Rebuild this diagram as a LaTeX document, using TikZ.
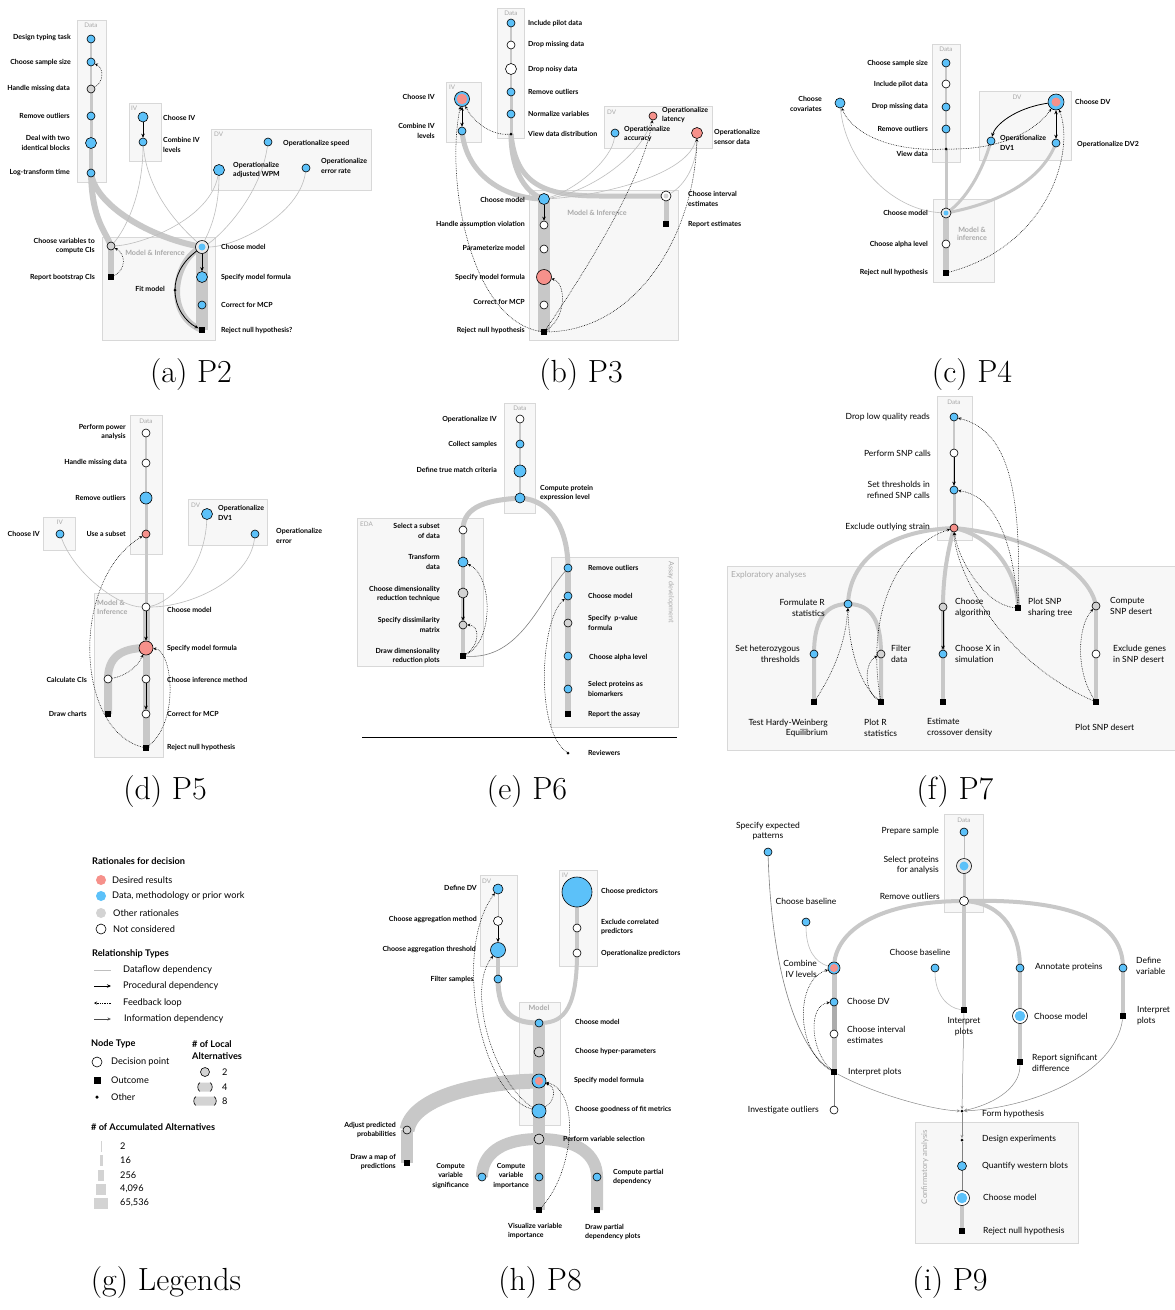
\documentclass[tikz,border=0pt]{standalone}
\usepackage{fontspec}
\newfontfamily\labf{Lato}
\usetikzlibrary{arrows.meta}
\definecolor{cblue}{HTML}{5CC1F9}
\definecolor{cred}{HTML}{F6918B}
\definecolor{cgray}{HTML}{D3D3D3}
\definecolor{cflow}{HTML}{C8C8C8}
\definecolor{cthin}{HTML}{BEBEBE}
\definecolor{cbox}{HTML}{D8D8D8}
\definecolor{cboxf}{HTML}{F7F7F7}
\definecolor{cboxt}{HTML}{A9A9A9}
\definecolor{cinfo}{HTML}{8A8A8A}
\pgfdeclarelayer{bg}
\pgfdeclarelayer{edges}
\pgfsetlayers{bg,edges,main}
\tikzset{
  nd/.style={circle, draw=black, line width=0.6pt, inner sep=0pt, minimum size=#1},
  nd/.default=8pt,
  bl/.style={nd=#1, fill=cblue}, bl/.default=8pt,
  rd/.style={nd=#1, fill=cred}, rd/.default=8pt,
  gr/.style={nd=#1, fill=cgray}, gr/.default=8pt,
  wh/.style={nd=#1, fill=white}, wh/.default=8pt,
  ctr/.style 2 args={path picture={\fill[#1] (path picture bounding box.center) circle (#2);}},
  oc/.style={rectangle, fill=black, inner sep=0pt, minimum size=6.5pt},
  ot/.style={circle, fill=black, inner sep=0pt, minimum size=3pt},
  flow/.style={draw=cflow, line width=#1}, flow/.default=4pt,
  thn/.style={draw=cthin, line width=0.6pt},
  proc/.style={draw=black, line width=0.8pt, -{Stealth[length=4pt,width=3.5pt]}},
  fb/.style={draw=black, line width=0.55pt, dash pattern=on 0.7pt off 1pt, -{Stealth[length=3pt,width=3pt]}},
  info/.style={draw=cinfo, line width=0.5pt, -{Stealth[length=3.5pt,width=3pt,open]}},
  bx/.style={draw=cbox, fill=cboxf, line width=0.8pt},
  bxt/.style={text=cboxt, font=\labf\fontsize{6.3}{7}\selectfont, inner sep=0pt},
  bxtb/.style={text=cboxt, font=\labf\bfseries\fontsize{7.2}{8.6}\selectfont, inner sep=0pt, align=left},
  lb/.style={font=\labf\bfseries\fontsize{7}{9.3}\selectfont, inner sep=0pt},
  lE/.style={lb, anchor=east, align=right},
  lW/.style={lb, anchor=west, align=left},
  lC/.style={lb, anchor=center, align=center},
  lr/.style={font=\labf\fontsize{8.5}{10.8}\selectfont, inner sep=0pt},
  rE/.style={lr, anchor=east, align=right},
  rW/.style={lr, anchor=west, align=left},
  rC/.style={lr, anchor=center, align=center},
  lg/.style={font=\labf\fontsize{9.2}{11}\selectfont, inner sep=0pt, anchor=west, align=left},
  lgh/.style={font=\labf\bfseries\fontsize{9.2}{11.5}\selectfont, inner sep=0pt, anchor=west, align=left},
  captxt/.style={font=\fontsize{32}{36}\selectfont, inner sep=0pt},
}
\begin{document}
\begin{tikzpicture}[x=1pt,y=-1pt]
\useasboundingbox (0,0) rectangle (1175,1310);
\begin{pgfonlayer}{bg}
\fill[white] (0,0) rectangle (1175,1310);
% a
\draw[bx] (77,20) rectangle (106,182);
\draw[bx] (129,103) rectangle (161,161);
\draw[bx] (211,129) rectangle (371,190);
\draw[bx] (102,237) rectangle (215,340);
% b
\draw[bx] (497,8) rectangle (524,138);
\draw[bx] (446,82) rectangle (481,142);
\draw[bx] (604,106) rectangle (712,148);
\draw[bx] (529,190) rectangle (678,340);
% c
\draw[bx] (932,44) rectangle (960,162);
\draw[bx] (979,91) rectangle (1071,160);
\draw[bx] (933,199) rectangle (994,282);
% d
\draw[bx] (130,415) rectangle (162,554);
\draw[bx] (43,517) rectangle (75,550);
\draw[bx] (188,499) rectangle (267,545);
\draw[bx] (94,593) rectangle (163,757);
% e
\draw[bx] (504,403) rectangle (535,513);
\draw[bx] (357,518) rectangle (483,666);
\draw[bx] (551,557) rectangle (678,727);
% f
\draw[bx] (937,396) rectangle (972,540);
\draw[bx] (727,566) rectangle (1175,750);
% h
\draw[bx] (480,875) rectangle (517,966);
\draw[bx] (559,870) rectangle (597,966);
\draw[bx] (519,1002) rectangle (560,1125);
% i
\draw[bx] (944,814) rectangle (983,912);
\draw[bx] (915,1122) rectangle (1078,1243);
\end{pgfonlayer}

% ================= Panel a =================
\node[bxt] (ta1) at (91,25) {Data};
\node[bxt, anchor=west] (ta2) at (131,108) {IV};
\node[bxt, anchor=west] (ta3) at (214,134) {DV};
\node[bxtb] (ta4) at (155,253) {Model \& Inference};
\node[bl] (a1) at (91,39) {}; \node[lE] (a1t) at (71,38) {Design typing task};
\node[bl] (a2) at (91,62) {}; \node[lE] (a2t) at (71,62) {Choose sample size};
\node[gr] (a3) at (91,89) {}; \node[lE] (a3t) at (70,89) {Handle missing data};
\node[bl] (a4) at (91,116) {}; \node[lE] (a4t) at (70,116) {Remove outliers};
\node[bl=11pt] (a5) at (91,143) {}; \node[lE] (a5t) at (70,143) {Deal with two\\identical blocks};
\node[bl] (a6) at (91,173) {}; \node[lE] (a6t) at (70,173) {Log-transform time};
\node[bl=10pt] (a7) at (143,117) {}; \node[lW] (a7t) at (163,118) {Choose IV};
\node[bl] (a8) at (143,142) {}; \node[lW] (a8t) at (163,145) {Combine IV\\levels};
\node[bl] (a9) at (268,142) {}; \node[lW] (a9t) at (283,143) {Operationalize speed};
\node[bl=11pt] (a10) at (219,170) {}; \node[lW] (a10t) at (233,170) {Operationalize\\adjusted WPM};
\node[bl] (a11) at (306,168) {}; \node[lW] (a11t) at (321,166) {Operationalize\\error rate};
\node[gr] (a12) at (111,246) {}; \node[lE] (a12t) at (95,246) {Choose variables to\\compute CIs};
\node[oc] (a13) at (111,277) {}; \node[lE] (a13t) at (95,277) {Report bootstrap CIs};
\node[nd=13pt, fill=cgray!50, ctr={cblue}{3.5pt}] (a14) at (202,247) {}; \node[lW] (a14t) at (221,247) {Choose model};
\node[bl=11pt] (a15) at (202,277) {}; \node[lW] (a15t) at (221,277) {Specify model formula};
\node[bl] (a16) at (202,305) {}; \node[lW] (a16t) at (221,305) {Correct for MCP};
\node[oc] (a17) at (202,330) {}; \node[lW] (a17t) at (221,331) {Reject null hypothesis?};
\node[ot] (a18) at (175,290) {}; \node[lE] (a18t) at (165,289) {Fit model};
\begin{pgfonlayer}{edges}
\draw[flow=2pt] (a1.center) -- (a3.center);
\draw[flow=3pt] (a3.center) -- (a5.center);
\draw[flow=4pt] (a5.center) -- (a6.center);
\draw[flow=6pt] (a6.center) .. controls (92,220) and (105,230) .. (a12.center);
\draw[flow=6pt] (a6.center) .. controls (95,205) and (150,238) .. (a14.center);
\draw[flow=6pt] (a12.center) -- (a13.center);
\draw[flow=12pt] (a14.center) -- (a17.center);
\draw[flow=6pt] (a14.center) .. controls (175,258) and (163,315) .. (a17.center);
\draw[thn] (a8) .. controls (143,195) and (125,230) .. (a12);
\draw[thn] (a8) .. controls (148,200) and (190,235) .. (a14);
\draw[thn] (a10) .. controls (210,220) and (140,245) .. (a12);
\draw[thn] (a10) .. controls (219,215) and (207,235) .. (a14);
\draw[thn] (a9) .. controls (260,200) and (215,240) .. (a14);
\draw[thn] (a11) .. controls (300,215) and (235,247) .. (a14);
\draw[proc] (a7) -- (a8);
\draw[proc] (a14) -- (a15);
\draw[proc] (a14) .. controls (182,262) and (175,276) .. (a18.center) .. controls (175,308) and (186,322) .. (a17);
\draw[fb] (a3) .. controls (104,82) and (104,68) .. (a2);
\draw[fb] (a13) .. controls (126,270) and (126,254) .. (a12);
\end{pgfonlayer}

% ================= Panel b =================
\node[bxt] (tb1) at (511,13) {Data};
\node[bxt, anchor=west] (tb2) at (449,87) {IV};
\node[bxt, anchor=west] (tb3) at (607,112) {DV};
\node[bxtb] (tb4) at (597,213) {Model \& Inference};
\node[bl] (b1) at (511,23) {}; \node[lW] (b1t) at (528,23) {Include pilot data};
\node[wh] (b2) at (511,45) {}; \node[lW] (b2t) at (528,45) {Drop missing data};
\node[wh=11pt] (b3) at (511,69) {}; \node[lW] (b3t) at (528,69) {Drop noisy data};
\node[bl] (b4) at (511,92) {}; \node[lW] (b4t) at (528,92) {Remove outliers};
\node[bl] (b5) at (511,114) {}; \node[lW] (b5t) at (528,114) {Normalize variables};
\node[ot] (b6) at (511,134) {}; \node[lW] (b6t) at (528,134) {View data distribution};
\node[nd=15pt, fill=cblue, ctr={cred}{5.3pt}] (b7) at (462,99) {}; \node[lE] (b7t) at (435,97) {Choose IV};
\node[bl] (b8) at (462,131) {}; \node[lE] (b8t) at (435,131) {Combine IV\\levels};
\node[rd] (b9) at (653,116) {}; \node[lW] (b9t) at (662,115) {Operationalize\\latency};
\node[bl] (b10) at (615,133) {}; \node[lW] (b10t) at (624,134) {Operationalize\\accuracy};
\node[rd=11pt] (b11) at (697,133) {}; \node[lW] (b11t) at (714,137) {Operationalize\\sensor data};
\node[bl=11pt] (b12) at (544,199) {}; \node[lE] (b12t) at (525,200) {Choose model};
\node[wh] (b13) at (544,225) {}; \node[lE] (b13t) at (525,224) {Handle assumption violation};
\node[wh] (b14) at (544,249) {}; \node[lE] (b14t) at (525,248) {Parameterize model};
\node[rd=15pt] (b15) at (544,277) {}; \node[lE] (b15t) at (525,277) {Specify model formula};
\node[wh] (b16) at (544,305) {}; \node[lE] (b16t) at (525,302) {Correct for MCP};
\node[oc] (b17) at (544,332) {}; \node[lE] (b17t) at (525,331) {Reject null hypothesis};
\node[nd=10pt, fill=white, ctr={cgray}{2.5pt}] (b18) at (666,196) {}; \node[lW] (b18t) at (688,199) {Choose interval\\estimates};
\node[oc] (b19) at (666,224) {}; \node[lW] (b19t) at (688,224) {Report estimates};
\begin{pgfonlayer}{edges}
\draw[flow=2pt] (b1.center) -- (b4.center);
\draw[flow=3pt] (b4.center) -- (b6.center);
\draw[flow=5pt] (b6.center) .. controls (511,165) and (522,192) .. (b12.center);
\draw[flow=5pt] (b8.center) .. controls (466,175) and (505,199) .. (b12.center);
\draw[flow=5pt] (b6.center) .. controls (516,185) and (545,196) .. (600,196) -- (b18.center);
\draw[flow=12pt] (b12.center) -- (b17.center);
\draw[flow=5pt] (b18.center) -- (b19.center);
\draw[thn] (b10) .. controls (612,160) and (575,190) .. (b12);
\draw[thn] (b9) .. controls (640,160) and (585,193) .. (b12);
\draw[thn] (b11) .. controls (690,175) and (600,196) .. (b12);
\draw[thn] (b11) .. controls (697,165) and (685,185) .. (b18);
\draw[proc] (b12) -- (b13);
\draw[proc, {Stealth[length=4pt,width=3.5pt]}-{Stealth[length=4pt,width=3.5pt]}] (b7) -- (b8);
\draw[fb] (b6) .. controls (490,136) and (472,120) .. (b7);
\draw[fb] (b17) .. controls (470,320) and (445,180) .. (b7);
\draw[fb] (b17) .. controls (600,250) and (645,170) .. (b9);
\draw[fb] (b17) .. controls (640,330) and (695,230) .. (b11);
\draw[fb] (b17) .. controls (568,315) and (565,282) .. (b15);
\end{pgfonlayer}

% ================= Panel c =================
\node[bxt] (tc1) at (946,49) {Data};
\node[bxt] (tc2) at (1017,97) {DV};
\node[bxtb, align=center] (tc3) at (972,234) {Model \&\\inference};
\node[bl] (c1) at (946,63) {}; \node[lE] (c1t) at (928,63) {Choose sample size};
\node[wh] (c2) at (946,84) {}; \node[lE] (c2t) at (928,84) {Include pilot data};
\node[bl] (c3) at (946,107) {}; \node[lE] (c3t) at (928,107) {Drop missing data};
\node[bl] (c4) at (946,129) {}; \node[lE] (c4t) at (928,129) {Remove outliers};
\node[ot] (c5) at (946,149) {}; \node[lE] (c5t) at (928,154) {View data};
\node[bl=10pt] (c6) at (840,103) {}; \node[lE] (c6t) at (822,104) {Choose\\covariates};
\node[nd=16pt, fill=cblue, ctr={cred}{4.5pt}] (c7) at (1056,102) {}; \node[lW] (c7t) at (1075,102) {Choose DV};
\node[bl] (c8) at (991,141) {}; \node[lW] (c8t) at (1000,143) {Operationalize\\DV1};
\node[bl] (c9) at (1056,143) {}; \node[lW] (c9t) at (1077,144) {Operationalize DV2};
\node[nd=10pt, fill=cgray!50, ctr={cblue}{2.5pt}] (c10) at (946,213) {}; \node[lE] (c10t) at (928,213) {Choose model};
\node[wh] (c11) at (946,244) {}; \node[lE] (c11t) at (928,244) {Choose alpha level};
\node[oc] (c12) at (946,273) {}; \node[lE] (c12t) at (928,273) {Reject null hypothesis};
\begin{pgfonlayer}{edges}
\draw[flow=2pt] (c1.center) -- (c5.center);
\draw[flow=3pt] (c5.center) -- (c10.center);
\draw[flow=6pt] (c10.center) -- (c12.center);
\draw[flow=3pt] (c8.center) .. controls (980,180) and (960,205) .. (c10.center);
\draw[flow=3pt] (c9.center) .. controls (1040,185) and (990,205) .. (c10.center);
\draw[thn] (c10) .. controls (890,210) and (845,160) .. (c6);
\draw[proc] (c7) .. controls (1015,108) and (995,125) .. (c8);
\draw[proc, {Stealth[length=4pt,width=3.5pt]}-{Stealth[length=4pt,width=3.5pt]}] (c7) -- (c9);
\draw[fb] (c5) .. controls (885,152) and (850,130) .. (c6);
\draw[fb] (c5) .. controls (1010,150) and (1040,125) .. (c7);
\draw[fb] (c12) .. controls (1050,245) and (1075,150) .. (c7);
\end{pgfonlayer}

% ================= Panel d =================
\node[bxt] (td1) at (146,421) {Data};
\node[bxt] (td2) at (60,522) {IV};
\node[bxt, anchor=west] (td3) at (191,505) {DV};
\node[bxtb, anchor=north west] (td4) at (97,600) {Model \&\\Inference};
\node[wh] (d1) at (146,433) {}; \node[lE] (d1t) at (126,432) {Perform power\\analysis};
\node[wh] (d2) at (146,463) {}; \node[lE] (d2t) at (127,463) {Handle missing data};
\node[bl=12pt] (d3) at (146,498) {}; \node[lE] (d3t) at (126,498) {Remove outliers};
\node[rd] (d4) at (146,534) {}; \node[lE] (d4t) at (126,534) {Use a subset};
\node[bl] (d5) at (60,534) {}; \node[lE] (d5t) at (40,534) {Choose IV};
\node[bl=11pt] (d6) at (207,514) {}; \node[lW] (d6t) at (218,513) {Operationalize\\DV1};
\node[bl] (d7) at (255,534) {}; \node[lW] (d7t) at (276,536) {Operationalize\\error};
\node[wh] (d8) at (146,607) {}; \node[lW] (d8t) at (167,610) {Choose model};
\node[rd=14pt] (d9) at (146,648) {}; \node[lW] (d9t) at (167,648) {Specify model formula};
\node[wh] (d10) at (146,679) {}; \node[lW] (d10t) at (167,680) {Choose inference method};
\node[wh] (d11) at (146,714) {}; \node[lW] (d11t) at (167,714) {Correct for MCP};
\node[oc] (d12) at (146,748) {}; \node[lW] (d12t) at (167,748) {Reject null hypothesis};
\node[wh] (d13) at (108,679) {}; \node[lE] (d13t) at (87,680) {Calculate CIs};
\node[oc] (d14) at (108,714) {}; \node[lE] (d14t) at (87,714) {Draw charts};
\begin{pgfonlayer}{edges}
\draw[flow=2pt] (d1.center) -- (d3.center);
\draw[flow=3pt] (d3.center) -- (d8.center);
\draw[flow=7pt] (d8.center) -- (d12.center);
\draw[flow=8pt] (d9.center) .. controls (120,648) and (108,658) .. (d13.center) -- (d14.center);
\draw[thn] (d5) .. controls (75,575) and (120,607) .. (d8);
\draw[thn] (d6) .. controls (205,570) and (170,603) .. (d8);
\draw[thn] (d7) .. controls (250,580) and (190,607) .. (d8);
\draw[proc] (d8) -- (d9);
\draw[proc] (d10) -- (d11);
\draw[fb] (d13) .. controls (125,676) and (137,668) .. (d9);
\draw[fb] (d12) .. controls (180,720) and (172,650) .. (d9);
\draw[fb] (d12) .. controls (75,730) and (70,580) .. (d4);
\end{pgfonlayer}

% ================= Panel e =================
\node[bxt] (te1) at (520,408) {Data};
\node[bxt, anchor=west] (te2) at (360,524) {EDA};
\node[bxt, rotate=-90, font=\labf\fontsize{7.2}{8}\selectfont] (te3) at (671,592) {Assay development};
\node[wh] (e1) at (520,419) {}; \node[lE] (e1t) at (497,419) {Operationalize IV};
\node[bl] (e2) at (520,444) {}; \node[lE] (e2t) at (497,444) {Collect samples};
\node[bl=12pt] (e3) at (520,471) {}; \node[lE] (e3t) at (497,470) {Define true match criteria};
\node[bl=10pt] (e4) at (520,498) {}; \node[lW] (e4t) at (540,493) {Compute protein\\expression level};
\node[wh] (e5) at (463,530) {}; \node[lE] (e5t) at (440,531) {Select a subset\\of data};
\node[bl=10pt] (e6) at (463,562) {}; \node[lE] (e6t) at (440,562) {Transform\\data};
\node[gr=10pt] (e7) at (463,593) {}; \node[lE] (e7t) at (440,594) {Choose dimensionality\\reduction technique};
\node[gr] (e8) at (463,625) {}; \node[lE] (e8t) at (440,625) {Specify dissimilarity\\matrix};
\node[oc] (e9) at (463,656) {}; \node[lE] (e9t) at (440,656) {Draw dimensionality\\reduction plots};
\node[bl] (e10) at (568,568) {}; \node[lW] (e10t) at (588,568) {Remove outliers};
\node[bl] (e11) at (568,596) {}; \node[lW] (e11t) at (588,596) {Choose model};
\node[gr] (e12) at (568,623) {}; \node[lW] (e12t) at (588,623) {Specify \ p-value\\formula};
\node[bl] (e13) at (568,656) {}; \node[lW] (e13t) at (589,657) {Choose alpha level};
\node[bl] (e14) at (568,689) {}; \node[lW] (e14t) at (588,689) {Select proteins as\\biomarkers};
\node[oc] (e15) at (568,714) {}; \node[lW] (e15t) at (588,714) {Report the assay};
\node[ot] (e16) at (568,753) {}; \node[lW] (e16t) at (588,753) {Reviewers};
\coordinate (el1) at (362,737);
\coordinate (el2) at (677,737);
\draw[black, line width=0.8pt] (el1) -- (el2);
\begin{pgfonlayer}{edges}
\draw[flow=2pt] (e1.center) -- (e4.center);
\draw[flow=5pt] (e4.center) .. controls (490,500) and (463,505) .. (e5.center);
\draw[flow=5pt] (e4.center) .. controls (552,500) and (568,530) .. (e10.center);
\draw[flow=4pt] (e5.center) -- (e9.center);
\draw[flow=6pt] (e10.center) -- (e15.center);
\draw[proc] (e7) -- (e8);
\draw[thn, draw=gray] (e9) .. controls (520,660) and (540,600) .. (e10);
\draw[fb] (e9) .. controls (495,640) and (492,575) .. (e6);
\draw[fb] (e9) .. controls (480,645) and (480,625) .. (e8);
\draw[fb] (e16) .. controls (535,730) and (540,620) .. (e11);
\end{pgfonlayer}

% ================= Panel f =================
\node[bxt] (tf1) at (954,402) {Data};
\node[bxt, anchor=west, font=\labf\fontsize{8.3}{9}\selectfont] (tf2) at (731,575) {Exploratory analyses};
\node[bl] (f1) at (954,417) {}; \node[rE] (f1t) at (930,417) {Drop low quality reads};
\node[wh] (f2) at (954,453) {}; \node[rE] (f2t) at (931,453) {Perform SNP calls};
\node[bl] (f3) at (954,490) {}; \node[rE] (f3t) at (930,490) {Set thresholds in\\refined SNP calls};
\node[rd] (f4) at (954,528) {}; \node[rE] (f4t) at (930,527) {Exclude outlying strain};
\node[bl] (f5) at (848,604) {}; \node[rE] (f5t) at (825,608) {Formulate R\\statistics};
\node[bl] (f6) at (814,654) {}; \node[rE] (f6t) at (800,654) {Set heterozygous\\thresholds};
\node[gr] (f7) at (881,654) {}; \node[rW] (f7t) at (891,654) {Filter\\data};
\node[oc] (f8) at (814,702) {}; \node[rE] (f8t) at (828,728) {Test Hardy-Weinberg\\Equilibrium};
\node[oc] (f9) at (881,702) {}; \node[rW] (f9t) at (864,728) {Plot R\\statistics};
\node[gr] (f10) at (943,607) {}; \node[rW] (f10t) at (955,608) {Choose\\algorithm};
\node[bl] (f11) at (943,654) {}; \node[rW] (f11t) at (955,654) {Choose X in\\simulation};
\node[oc] (f12) at (943,702) {}; \node[rW] (f12t) at (927,728) {Estimate\\crossover density};
\node[oc] (f13) at (1018,608) {}; \node[rW] (f13t) at (1028,608) {Plot SNP\\sharing tree};
\node[gr] (f14) at (1096,606) {}; \node[rW] (f14t) at (1110,606) {Compute\\SNP desert};
\node[wh] (f15) at (1096,654) {}; \node[rW] (f15t) at (1113,654) {Exclude genes\\in SNP desert};
\node[oc] (f16) at (1096,702) {}; \node[rW] (f16t) at (1075,727) {Plot SNP desert};
\begin{pgfonlayer}{edges}
\draw[flow=1.5pt] (f1.center) -- (f3.center);
\draw[flow=3pt] (f3.center) -- (f4.center);
\draw[flow=4pt] (f4.center) .. controls (895,530) and (850,555) .. (f5.center);
\draw[flow=4pt] (f4.center) .. controls (948,550) and (943,575) .. (f10.center);
\draw[flow=4pt] (f4.center) .. controls (990,535) and (1018,570) .. (f13.center);
\draw[flow=4pt] (f4.center) .. controls (1030,535) and (1090,570) .. (f14.center);
\draw[flow=4pt] (f5.center) .. controls (822,604) and (814,625) .. (f6.center) -- (f8.center);
\draw[flow=4pt] (f5.center) .. controls (874,604) and (881,625) .. (f7.center) -- (f9.center);
\draw[flow=4pt] (f10.center) -- (f12.center);
\draw[flow=4pt] (f14.center) -- (f16.center);
\draw[proc] (f2) -- (f3);
\draw[proc] (f10) -- (f11);
\draw[fb] (f13) .. controls (1022,480) and (1005,430) .. (f1);
\draw[fb] (f13) .. controls (1012,530) and (990,495) .. (f3);
\draw[fb] (f13) .. controls (985,605) and (958,560) .. (f4);
\draw[fb] (f8) .. controls (835,670) and (846,640) .. (f5);
\draw[fb] (f9) .. controls (855,680) and (848,635) .. (f5);
\draw[fb] (f9) .. controls (863,690) and (865,662) .. (f7);
\draw[fb] (f9) .. controls (865,610) and (900,545) .. (f4);
\draw[fb] (f16) .. controls (1075,670) and (1078,625) .. (f14);
\draw[fb] (f16) .. controls (1000,660) and (955,570) .. (f4);
\end{pgfonlayer}

% ================= Panel g (legend) =================
\node[lgh] (g1) at (92,861) {Rationales for decision};
\node[circle, fill=cred, minimum size=10pt, inner sep=0pt] (g2) at (101,880) {}; \node[lg] (g2t) at (112,880) {Desired results};
\node[circle, fill=cblue, minimum size=10pt, inner sep=0pt] (g3) at (101,896) {}; \node[lg] (g3t) at (112,896) {Data, methodology or prior work};
\node[circle, fill=cgray, minimum size=10pt, inner sep=0pt] (g4) at (101,913) {}; \node[lg] (g4t) at (113,913) {Other rationales};
\node[wh=10pt] (g5) at (101,929) {}; \node[lg] (g5t) at (113,929) {Not considered};
\node[lgh] (g6) at (92,954) {Relationship Types};
\coordinate (g7a) at (94,970); \coordinate (g7b) at (111,970);
\draw[thn, line width=0.8pt] (g7a) -- (g7b); \node[lg] (g7t) at (123,970) {Dataflow dependency};
\coordinate (g8a) at (94,986); \coordinate (g8b) at (111,986);
\draw[proc] (g8a) -- (g8b); \node[lg] (g8t) at (123,986) {Procedural dependency};
\coordinate (g9a) at (111,1003); \coordinate (g9b) at (94,1003);
\draw[fb] (g9a) -- (g9b); \node[lg] (g9t) at (123,1003) {Feedback loop};
\coordinate (g10a) at (94,1019); \coordinate (g10b) at (111,1019);
\draw[info, draw=black!70] (g10a) -- (g10b); \node[lg] (g10t) at (124,1019) {Information dependency};
\node[lgh] (g11) at (91,1044) {Node Type};
\node[wh=10pt] (g12) at (97,1062) {}; \node[lg] (g12t) at (111,1062) {Decision point};
\node[oc, minimum size=7pt] (g13) at (97,1080) {}; \node[lg] (g13t) at (111,1080) {Outcome};
\node[ot, minimum size=3.5pt] (g14) at (97,1097) {}; \node[lg] (g14t) at (111,1097) {Other};
\node[lgh] (g15) at (192,1050) {\# of Local\\Alternatives};
\node[gr=9pt] (g16) at (205,1072) {}; \node[lg] (g16t) at (222,1072) {2};
\node[rectangle, rounded corners=3pt, fill=cgray, minimum width=14pt, minimum height=9pt, inner sep=0pt] (g17) at (205,1087) {}; \node[lg] (g17t) at (222,1087) {4};
\node[rectangle, rounded corners=3pt, fill=cgray, minimum width=22pt, minimum height=9pt, inner sep=0pt] (g18) at (205,1101) {}; \node[lg] (g18t) at (222,1101) {8};
\draw[line width=0.6pt] (200,1082.5) .. controls (197,1084) and (197,1090) .. (200,1091.5);
\draw[line width=0.6pt] (210,1082.5) .. controls (213,1084) and (213,1090) .. (210,1091.5);
\draw[line width=0.6pt] (196,1096.5) .. controls (193,1098) and (193,1104) .. (196,1105.5);
\draw[line width=0.6pt] (214,1096.5) .. controls (217,1098) and (217,1104) .. (214,1105.5);
\node[lgh] (g19) at (91,1127) {\# of Accumulated Alternatives};
\node[rectangle, fill=cgray, minimum width=1pt, minimum height=11pt, inner sep=0pt] (g20) at (101,1146) {}; \node[lg] (g20t) at (120,1146) {2};
\node[rectangle, fill=cgray, minimum width=3pt, minimum height=11pt, inner sep=0pt] (g21) at (101,1160) {}; \node[lg] (g21t) at (120,1160) {16};
\node[rectangle, fill=cgray, minimum width=6pt, minimum height=11pt, inner sep=0pt] (g22) at (101,1175) {}; \node[lg] (g22t) at (120,1175) {256};
\node[rectangle, fill=cgray, minimum width=10pt, minimum height=11pt, inner sep=0pt] (g23) at (101,1189) {}; \node[lg] (g23t) at (120,1189) {4,096};
\node[rectangle, fill=cgray, minimum width=14pt, minimum height=11pt, inner sep=0pt] (g24) at (101,1203) {}; \node[lg] (g24t) at (120,1203) {65,536};

% ================= Panel h =================
\node[bxt, anchor=west] (th1) at (482,881) {DV};
\node[bxt, anchor=west] (th2) at (562,875) {IV};
\node[bxtb] (th3) at (539,1008) {Model};
\node[bl=10pt] (h1) at (498,889) {}; \node[lE] (h1t) at (477,888) {Define DV};
\node[wh=9pt] (h2) at (498,921) {}; \node[lE] (h2t) at (477,920) {Choose aggregation method};
\node[bl=15pt] (h3) at (498,950) {}; \node[lE] (h3t) at (476,950) {Choose aggregation threshold};
\node[bl] (h4) at (498,979) {}; \node[lE] (h4t) at (474,979) {Filter samples};
\node[bl=30pt] (h5) at (577,892) {}; \node[lW] (h5t) at (601,891) {Choose predictors};
\node[wh] (h6) at (577,928) {}; \node[lW] (h6t) at (601,927) {Exclude correlated\\predictors};
\node[wh] (h7) at (577,953) {}; \node[lW] (h7t) at (601,953) {Operationalize predictors};
\node[bl] (h8) at (539,1023) {}; \node[lW] (h8t) at (575,1022) {Choose model};
\node[gr=10pt] (h9) at (539,1052) {}; \node[lW] (h9t) at (575,1051) {Choose hyper-parameters};
\node[nd=14pt, fill=cblue, ctr={cred}{4pt}] (h10) at (539,1081) {}; \node[lW] (h10t) at (574,1080) {Specify model formula};
\node[bl=14pt] (h11) at (539,1111) {}; \node[lW] (h11t) at (575,1110) {Choose goodness of fit metrics};
\node[gr=10pt] (h12) at (539,1139) {}; \node[lW] (h12t) at (563,1139) {Perform variable selection};
\node[gr] (h13) at (407,1130) {}; \node[lE] (h13t) at (396,1130) {Adjust predicted\\probabilities};
\node[oc] (h14) at (407,1163) {}; \node[lE] (h14t) at (396,1162) {Draw a map of\\predictions};
\node[bl] (h15) at (482,1177) {}; \node[lE, align=center] (h15t) at (469,1176) {Compute\\variable\\significance};
\node[bl] (h16) at (539,1177) {}; \node[lE, align=center] (h16t) at (529,1176) {Compute\\variable\\importance};
\node[oc] (h17) at (539,1210) {}; \node[lW] (h17t) at (508,1231) {Visualize variable\\importance};
\node[bl] (h18) at (597,1177) {}; \node[lW] (h18t) at (613,1177) {Compute partial\\dependency};
\node[oc] (h19) at (597,1210) {}; \node[lW] (h19t) at (585,1232) {Draw partial\\dependency plots};
\begin{pgfonlayer}{edges}
\draw[thn] (h1) -- (h2);
\draw[flow=4pt] (h3.center) -- (h4.center);
\draw[flow=5pt] (h4.center) .. controls (498,1015) and (515,1023) .. (h8.center);
\draw[flow=4pt] (h5.center) -- (h7.center);
\draw[flow=4pt] (h7.center) .. controls (577,1015) and (560,1023) .. (h8.center);
\draw[flow=12pt] (h8.center) -- (h17.center);
\draw[flow=15pt] (h10.center) .. controls (470,1082) and (412,1100) .. (h13.center);
\draw[flow=12pt] (h13.center) -- (h14.center);
\draw[flow=12pt] (h12.center) .. controls (500,1139) and (482,1155) .. (h15.center);
\draw[flow=12pt] (h12.center) .. controls (578,1139) and (597,1155) .. (h18.center) -- (h19.center);
\draw[proc] (h2) -- (h3);
\draw[fb] (h11) .. controls (480,1095) and (452,950) .. (h1);
\draw[fb] (h11) .. controls (495,1085) and (465,990) .. (h3);
\draw[fb] (h11) .. controls (556,1100) and (556,1087) .. (h10);
\draw[fb] (h17) .. controls (575,1170) and (580,1090) .. (h10);
\end{pgfonlayer}

% ================= Panel i =================
\node[bxt] (ti1) at (964,820) {Data};
\node[bxt, rotate=90, font=\labf\fontsize{7.8}{8.5}\selectfont] (ti2) at (925,1167) {Confirmatory analysis};
\node[bl] (i1) at (964,832) {}; \node[rE] (i1t) at (939,831) {Prepare sample};
\node[nd=15pt, fill=cgray!50, ctr={cblue}{4.5pt}] (i2) at (964,866) {}; \node[rE] (i2t) at (939,865) {Select proteins\\for analysis};
\node[wh=9pt] (i3) at (964,901) {}; \node[rE] (i3t) at (940,896) {Remove outliers};
\node[bl] (i4) at (768,852) {}; \node[rC] (i4t) at (768,831) {Specify expected\\patterns};
\node[bl] (i5) at (806,922) {}; \node[rC] (i5t) at (806,901) {Choose baseline};
\node[nd=12pt, fill=cblue, ctr={cred}{4pt}] (i6) at (834,968) {}; \node[rE] (i6t) at (817,969) {Combine\\IV levels};
\node[bl] (i7) at (834,1002) {}; \node[rW] (i7t) at (847,1001) {Choose DV};
\node[wh] (i8) at (834,1034) {}; \node[rW] (i8t) at (847,1035) {Choose interval\\estimates};
\node[oc] (i9) at (834,1072) {}; \node[rW] (i9t) at (848,1072) {Interpret plots};
\node[wh] (i10) at (834,1110) {}; \node[rE] (i10t) at (819,1110) {Investigate outliers};
\node[bl] (i11) at (935,968) {}; \node[rC] (i11t) at (920,952) {Choose baseline};
\node[oc] (i12) at (964,1010) {}; \node[rC] (i12t) at (964,1027) {Interpret\\plots};
\node[bl] (i13) at (1020,968) {}; \node[rW] (i13t) at (1035,967) {Annotate proteins};
\node[nd=15pt, fill=white, ctr={cblue}{5.3pt}] (i14) at (1020,1016) {}; \node[rW] (i14t) at (1034,1016) {Choose model};
\node[oc] (i15) at (1020,1062) {}; \node[rW] (i15t) at (1032,1063) {Report significant\\difference};
\node[bl] (i16) at (1123,968) {}; \node[rW] (i16t) at (1136,966) {Define\\variable};
\node[oc] (i17) at (1123,1016) {}; \node[rW] (i17t) at (1137,1016) {Interpret\\plots};
\node[ot] (i18) at (962,1111) {}; \node[rW] (i18t) at (982,1114) {Form hypothesis};
\node[ot] (i19) at (962,1140) {}; \node[rW] (i19t) at (982,1139) {Design experiments};
\node[bl=9pt] (i20) at (962,1166) {}; \node[rW] (i20t) at (982,1166) {Quantify western blots};
\node[nd=15pt, fill=white, ctr={cblue}{5.3pt}] (i21) at (962,1198) {}; \node[rW] (i21t) at (983,1197) {Choose model};
\node[oc] (i22) at (962,1231) {}; \node[rW] (i22t) at (983,1231) {Reject null hypothesis};
\begin{pgfonlayer}{edges}
\draw[thn] (i1) -- (i2);
\draw[flow=3pt] (i2.center) -- (i3.center);
\draw[flow=4pt] (i3.center) -- (i12.center);
\draw[flow=4pt] (i3.center) .. controls (880,901) and (834,930) .. (i6.center);
\draw[flow=4pt] (i3.center) .. controls (1005,903) and (1020,935) .. (i13.center);
\draw[flow=4pt] (i3.center) .. controls (1080,898) and (1123,925) .. (i16.center);
\draw[flow=5pt] (i6.center) -- (i9.center);
\draw[draw=gray!65, line width=5pt] (i7.center) -- (i8.center);
\draw[flow=4pt] (i13.center) -- (i15.center);
\draw[flow=4pt] (i16.center) -- (i17.center);
\draw[flow=4pt] (i21.center) -- (i22.center);
\draw[thn] (i5) .. controls (806,950) and (815,962) .. (i6);
\draw[thn] (i11) .. controls (935,995) and (948,1008) .. (i12);
\draw[thn, draw=gray] (i4) .. controls (772,980) and (800,1050) .. (i9);
\draw[thn, draw=gray] (i9) -- (i10);
\draw[info] (i9) .. controls (870,1092) and (930,1110) .. (i18);
\draw[info] (i12) -- (i18);
\draw[info] (i15) .. controls (1020,1090) and (990,1105) .. (i18);
\draw[info] (i17) .. controls (1115,1075) and (1030,1108) .. (i18);
\draw[info] (i18) -- (i19);
\draw[thn, draw=gray] (i19) -- (i20);
\draw[thn, draw=gray] (i20) -- (i21);
\draw[fb] (i9) .. controls (795,1050) and (795,980) .. (i6);
\draw[fb] (i9) .. controls (810,1050) and (808,1005) .. (i7);
\end{pgfonlayer}

% ================= Captions =================
\node[captxt] (capa) at (191,375) {(a) P2};
\node[captxt] (capb) at (581,375) {(b) P3};
\node[captxt] (capc) at (972,375) {(c) P4};
\node[captxt] (capd) at (165,792) {(d) P5};
\node[captxt] (cape) at (527,792) {(e) P6};
\node[captxt] (capf) at (955,792) {(f) P7};
\node[captxt] (capg) at (166,1282) {(g) Legends};
\node[captxt] (caph) at (540,1282) {(h) P8};
\node[captxt] (capi) at (950,1282) {(i) P9};
\end{tikzpicture}
\end{document}
